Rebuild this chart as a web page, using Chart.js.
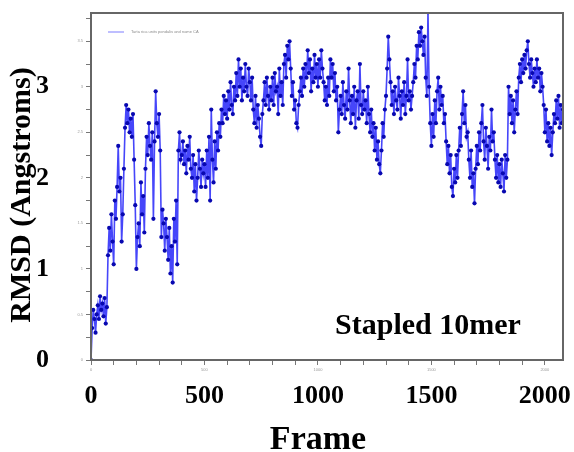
<!DOCTYPE html>
<html>
<head>
<meta charset="utf-8">
<script src="https://cdn.jsdelivr.net/npm/chart.js@4"></script>
<style>
  html, body { margin: 0; padding: 0; background: #fff; }
  #rmsd { display: block; }
</style>
</head>
<body>
<canvas id="rmsd" width="574" height="452"></canvas>
<script>
// RMSD of the stapled 10mer, one value every 5 frames
var frameStep = 5;
var rmsd = [
  0.0, 0.35, 0.55, 0.45, 0.3, 0.5, 0.6, 0.45, 0.7, 0.55, 0.62, 0.48, 0.68, 0.4, 0.58, 1.15, 1.45, 1.2, 1.6, 1.3,
  1.05, 1.75, 1.55, 1.9, 2.35, 1.85, 2.0, 1.3, 1.6, 2.1, 2.55, 2.8, 2.6, 2.75, 2.5, 2.65, 2.45, 2.7, 2.2, 1.7,
  1.0, 1.35, 1.5, 1.25, 1.95, 1.6, 1.8, 1.4, 2.1, 2.45, 2.25, 2.6, 2.35, 2.2, 2.5, 1.55, 2.4, 2.95, 2.6, 2.45,
  2.7, 2.3, 1.35, 1.65, 1.5, 1.2, 1.55, 1.35, 1.1, 1.45, 0.95, 1.25, 0.85, 1.55, 1.3, 1.75, 1.05, 2.3, 2.5, 2.2,
  2.25, 2.4, 2.15, 2.3, 2.05, 2.35, 2.2, 2.45, 2.1, 2.0, 2.25, 1.85, 2.15, 1.75, 2.0, 2.3, 2.1, 1.9, 2.2, 2.05,
  2.15, 1.9, 2.3, 2.0, 2.45, 1.75, 2.75, 2.2, 1.95, 2.4, 2.1, 2.5, 2.3, 2.6, 2.45, 2.75, 2.6, 2.9, 2.7, 2.85,
  2.65, 2.95, 2.75, 3.05, 2.8, 2.7, 3.0, 2.85, 3.15, 2.9, 3.3, 3.0, 3.2, 2.85, 3.1, 2.95, 3.25, 3.0, 2.9, 3.2,
  3.05, 2.85, 3.1, 2.75, 2.6, 2.9, 2.55, 2.8, 2.65, 2.45, 2.35, 2.7, 2.85, 3.05, 2.8, 3.1, 2.9, 2.75, 3.0, 2.85,
  3.1, 2.8, 3.15, 2.95, 3.0, 2.7, 3.2, 2.9, 3.05, 2.8, 3.25, 3.35, 3.1, 3.45, 3.3, 3.5, 3.2, 2.9, 3.05, 2.75,
  2.85, 2.6, 2.55, 2.8, 2.95, 3.1, 2.9, 3.2, 3.0, 3.25, 3.1, 3.4, 3.15, 3.3, 2.95, 3.2, 3.05, 3.35, 3.1, 3.25,
  3.0, 3.3, 3.1, 3.4, 3.2, 3.05, 2.85, 3.0, 2.8, 3.1, 2.9, 3.3, 3.1, 3.25, 2.95, 3.15, 2.85, 3.0, 2.5, 2.75,
  2.9, 2.7, 3.05, 2.8, 2.65, 2.95, 2.75, 3.2, 2.85, 2.6, 2.9, 2.7, 3.0, 2.55, 2.85, 2.95, 2.65, 3.25, 2.8, 2.7,
  2.95, 2.75, 2.85, 2.6, 3.0, 2.7, 2.5, 2.75, 2.45, 2.6, 2.3, 2.55, 2.2, 2.4, 2.15, 2.05, 2.3, 2.6, 2.45, 2.75,
  2.9, 3.2, 3.55, 3.3, 3.05, 2.8, 2.95, 2.7, 3.0, 2.85, 2.75, 3.1, 2.9, 2.65, 2.95, 2.8, 3.05, 2.7, 2.9, 3.3,
  2.85, 2.95, 2.75, 2.9, 3.05, 3.25, 3.1, 3.45, 3.3, 3.6, 3.45, 3.65, 3.5, 3.35, 3.55, 3.1, 2.9, 3.82, 3.0, 2.6,
  2.35, 2.7, 2.45, 2.85, 2.6, 2.95, 3.1, 2.75, 3.0, 2.8, 2.9, 2.6, 2.7, 2.4, 2.15, 2.35, 2.05, 2.25, 1.9, 1.8,
  2.1, 1.95, 2.25, 2.0, 2.3, 2.55, 2.35, 2.7, 2.95, 2.6, 2.8, 2.45, 2.5, 2.2, 2.0, 2.3, 1.9, 2.05, 1.72, 2.1,
  2.35, 2.15, 2.5, 2.3, 2.6, 2.8, 2.4, 2.2, 2.55, 2.35, 2.1, 2.45, 2.3, 2.75, 2.4, 2.5, 2.2, 2.0, 2.25, 1.95,
  2.15, 1.9, 2.2, 2.05, 1.85, 2.25, 2.0, 2.2, 3.0, 2.7, 2.9, 2.6, 2.85, 2.5, 2.75, 2.95, 2.7, 3.1, 3.25, 3.05,
  3.3, 3.15, 3.35, 3.2, 3.4, 3.5, 3.25, 3.1, 3.3, 3.15, 3.0, 3.2, 3.05, 3.3, 3.1, 3.2, 2.95, 3.15, 3.0, 2.8,
  2.5, 2.75, 2.4, 2.6, 2.35, 2.55, 2.25, 2.5, 2.7, 2.6, 2.85, 2.65, 2.9, 2.55, 2.8, 2.6, 2.75
];
var frames = rmsd.map(function(_, i) { return i * frameStep; });

var xBigTicks = [0, 500, 1000, 1500, 2000];
var yBigTicks = [0, 1, 2, 3];
var xMinorStep = 100, yMinorStep = 0.25;
var xMax = 2080;
var yMax = 3.81;
var legendText = 'Tarta rica units pondalis and name CA';
var panelLabel = 'Stapled 10mer';

var serif = '"Liberation Serif", "Times New Roman", serif';

function fixedTicks(step, last) {
  return function(scale) {
    var t = [];
    for (var i = 0; i * step <= last + 1e-9; i++) t.push({ value: +(i * step).toFixed(4) });
    scale.ticks = t;
  };
}
function noPad(size, key) {
  return function(s) {
    s[key] = size;
    s.paddingTop = 0; s.paddingBottom = 0; s.paddingLeft = 0; s.paddingRight = 0;
  };
}

var chartDecor = {
  id: 'chartDecor',
  afterDraw: function(chart) {
    var ctx = chart.ctx;
    var a = chart.chartArea;
    var xs = chart.scales.x, ys = chart.scales.y;
    ctx.save();
    // frame
    ctx.strokeStyle = '#666';
    ctx.lineWidth = 2;
    ctx.strokeRect(a.left, a.top, a.right - a.left, a.bottom - a.top);

    // tiny original tick labels
    ctx.fillStyle = '#9a9a9a';
    ctx.font = '4px sans-serif';
    ctx.textAlign = 'right';
    ctx.textBaseline = 'middle';
    for (var v = 0; v <= 3.5; v += 0.5) {
      ctx.fillText(v === Math.floor(v) ? String(v) : v.toFixed(1), a.left - 8, ys.getPixelForValue(v));
    }
    ctx.textAlign = 'center';
    ctx.textBaseline = 'top';
    xBigTicks.forEach(function(t) {
      ctx.fillText(String(t), xs.getPixelForValue(t), a.bottom + 8);
    });

    // tiny legend
    ctx.strokeStyle = '#a9a9ff';
    ctx.lineWidth = 1.5;
    ctx.beginPath();
    ctx.moveTo(a.left + 17, a.top + 19);
    ctx.lineTo(a.left + 33, a.top + 19);
    ctx.stroke();
    ctx.fillStyle = '#8c8c8c';
    ctx.font = '4px sans-serif';
    ctx.textAlign = 'left';
    ctx.textBaseline = 'middle';
    ctx.fillText(legendText, a.left + 40, a.top + 19);

    // panel label
    ctx.fillStyle = '#000';
    ctx.font = 'bold 30px ' + serif;
    ctx.textAlign = 'center';
    ctx.textBaseline = 'alphabetic';
    ctx.fillText(panelLabel, 428, 334);

    // axis titles
    ctx.font = 'bold 34px ' + serif;
    ctx.fillText('Frame', 318, 449);
    ctx.translate(30, 195);
    ctx.rotate(-Math.PI / 2);
    ctx.font = 'bold 30px ' + serif;
    ctx.fillText('RMSD (Angstroms)', 0, 0);
    ctx.restore();
  }
};

var ctx = document.getElementById('rmsd');
var rmsdChart = new Chart(ctx, {
  type: 'line',
  data: {
    datasets: [{
      label: legendText,
      data: frames.map(function(f, i) { return { x: f, y: rmsd[i] }; }),
      borderColor: 'rgba(50, 50, 250, 0.9)',
      borderWidth: 1.6,
      pointRadius: 2.1,
      pointBorderWidth: 0,
      pointBackgroundColor: '#0808b0',
      tension: 0
    }]
  },
  options: {
    responsive: false,
    animation: false,
    devicePixelRatio: 1,
    layout: { padding: { top: 13, right: 11, left: 0, bottom: 0 } },
    plugins: { legend: { display: false }, tooltip: { enabled: false } },
    scales: {
      x: {
        type: 'linear',
        min: 0,
        max: xMax,
        afterBuildTicks: fixedTicks(xMinorStep, 2000),
        afterFit: noPad(92, 'height'),
        border: { display: false },
        grid: { drawOnChartArea: false, tickLength: 5, color: '#777' },
        ticks: {
          padding: 16,
          color: '#000',
          font: { family: serif, size: 26, weight: 'bold' },
          maxRotation: 0,
          autoSkip: false,
          callback: function(v) { return xBigTicks.indexOf(v) >= 0 ? String(v) : ''; }
        }
      },
      y: {
        min: 0,
        max: yMax,
        afterBuildTicks: fixedTicks(yMinorStep, 3.75),
        afterFit: noPad(91, 'width'),
        border: { display: false },
        grid: { drawOnChartArea: false, tickLength: 5, color: '#777' },
        ticks: {
          padding: 37,
          color: '#000',
          font: { family: serif, size: 26, weight: 'bold' },
          autoSkip: false,
          callback: function(v) { return yBigTicks.indexOf(v) >= 0 ? String(v) : ''; }
        }
      }
    }
  },
  plugins: [chartDecor]
});
</script>
</body>
</html>
